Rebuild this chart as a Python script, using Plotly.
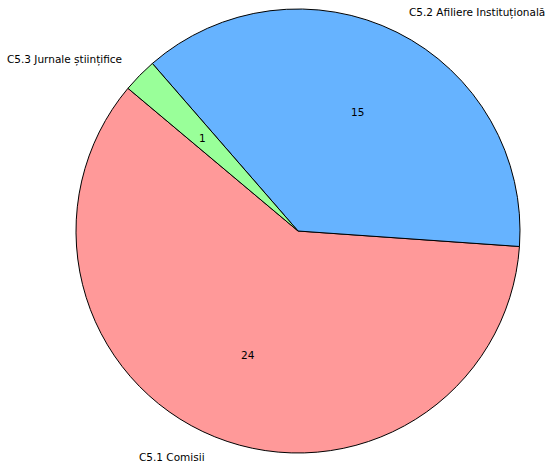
import math
import plotly.graph_objects as go

labels = ["C5.1 Comisii", "C5.2 Afiliere Instituțională", "C5.3 Jurnale științifice"]
values = [24, 15, 1]
colors = ["#ff9999", "#66b3ff", "#99ff99"]

START_ANGLE = 140  # degrees, counterclockwise from 3 o'clock (matplotlib style)
LABEL_DIST = 1.1
PCT_DIST = 0.6
FONT = dict(family="DejaVu Sans", size=10.5, color="#000000")

total = sum(values)
# plotly rotation: clockwise from 12 o'clock, marks end of first slice for ccw direction
rotation = 90 - (START_ANGLE + 360 * values[0] / total)

fig = go.Figure(
    go.Pie(
        labels=labels,
        values=values,
        marker=dict(colors=colors, line=dict(color="#000000", width=1)),
        sort=False,
        direction="counterclockwise",
        rotation=rotation,
        textinfo="none",
        hoverinfo="label+value",
        domain=dict(x=[0, 1], y=[0, 1]),
    )
)

annotations = []
cum = 0
for lab, val in zip(labels, values):
    mid = math.radians(START_ANGLE + 360 * (cum + val / 2) / total)
    cum += val
    cx, cy = math.cos(mid), math.sin(mid)
    annotations.append(dict(
        x=0.5 + 0.5 * LABEL_DIST * cx, y=0.5 + 0.5 * LABEL_DIST * cy,
        xref="paper", yref="paper", text=lab, showarrow=False,
        xanchor="left" if cx > 0 else "right", yanchor="middle", font=FONT,
    ))
    annotations.append(dict(
        x=0.5 + 0.5 * PCT_DIST * cx, y=0.5 + 0.5 * PCT_DIST * cy,
        xref="paper", yref="paper", text=str(val), showarrow=False,
        xanchor="center", yanchor="middle", font=FONT,
    ))

fig.update_layout(
    width=546, height=471,
    margin=dict(l=76, r=26, t=9, b=18),
    paper_bgcolor="#ffffff", plot_bgcolor="#ffffff",
    showlegend=False,
    annotations=annotations,
)

fig.write_html("out.html", config={"displayModeBar": False},
               post_script="document.body.style.margin='0';")
